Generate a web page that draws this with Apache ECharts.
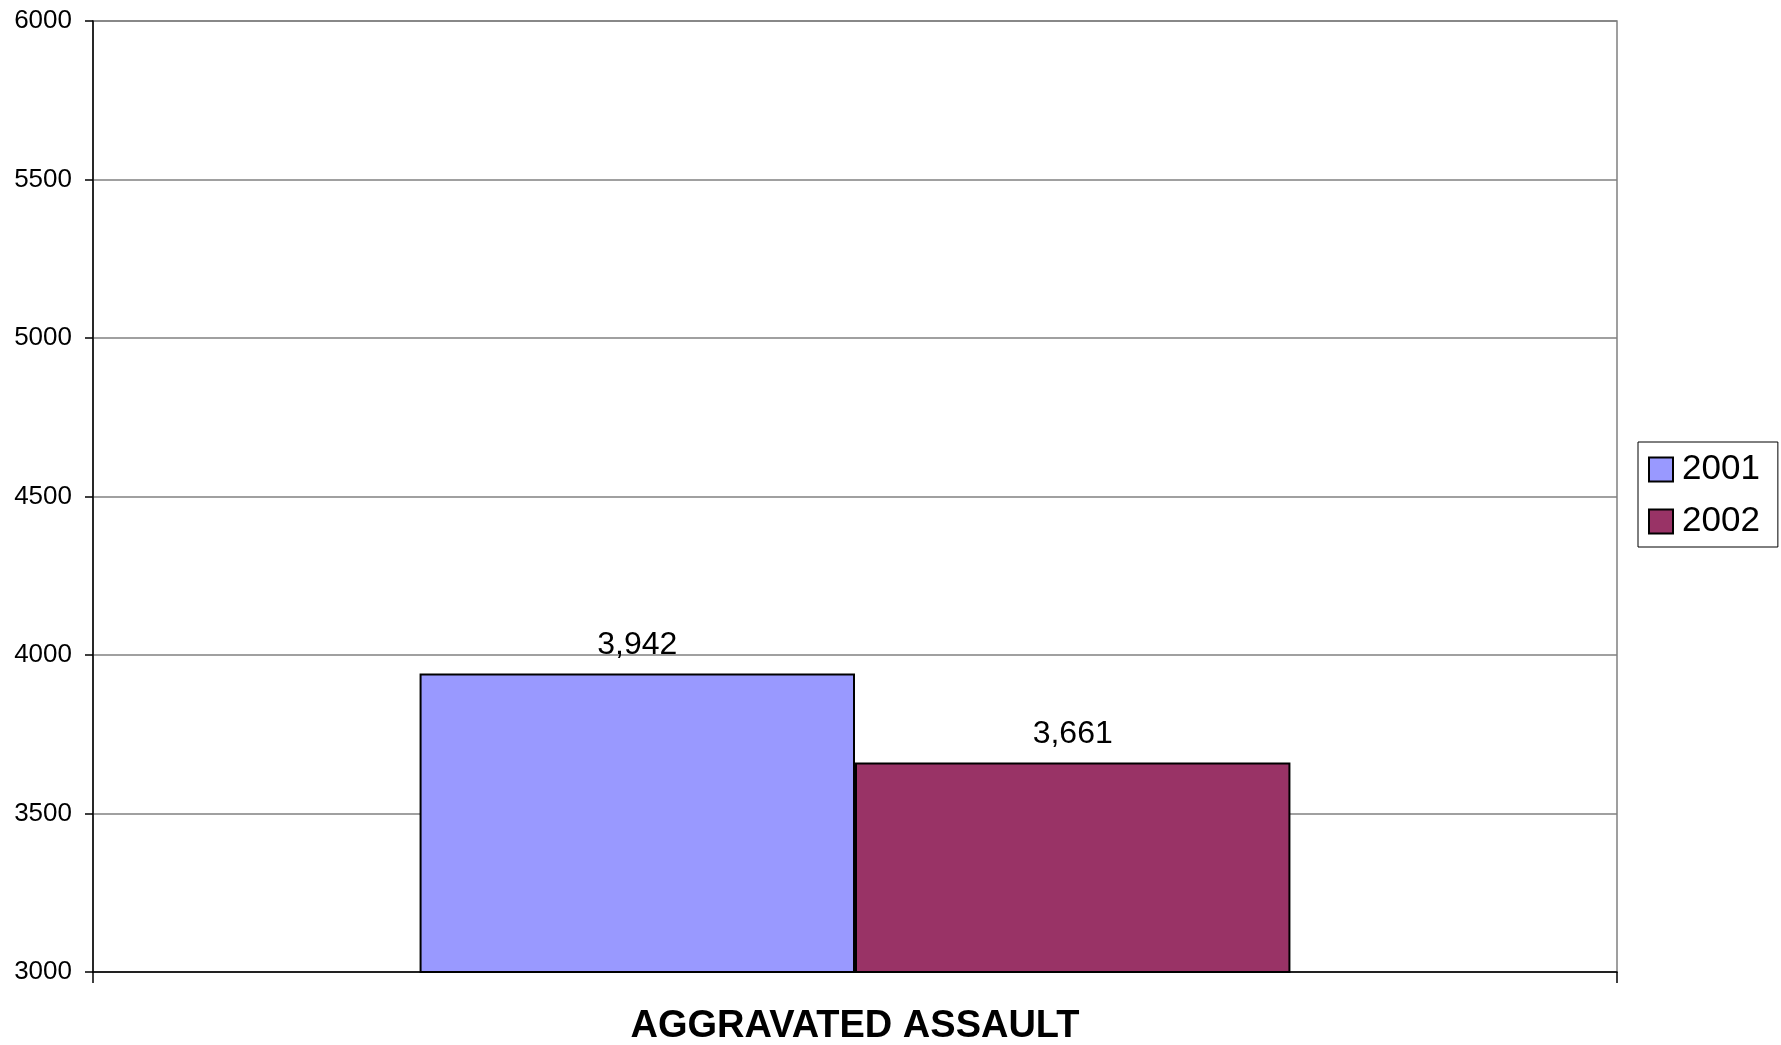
<!DOCTYPE html>
<html><head><meta charset="utf-8">
<script src="https://cdn.jsdelivr.net/npm/echarts@6/dist/echarts.min.js"></script>
<style>html,body{margin:0;padding:0;background:#fff}#c{width:1781px;height:1045px}</style>
</head><body><div id="c"></div>
<script>
const categories = ["AGGRAVATED ASSAULT"];
const seriesNames = ["2001", "2002"];
const values2001 = [3942];
const values2002 = [3661];
const yMin = 3000, yMax = 6000, yInterval = 500;

const FONT = "'Liberation Sans', Arial, sans-serif";
const chart = echarts.init(document.getElementById('c'), null, {renderer: 'canvas'});
const labelFmt = p => p.value.toLocaleString('en-US');
chart.setOption({
  animation: false,
  backgroundColor: '#ffffff',
  grid: {left: 93, right: 164, top: 21, bottom: 73, show: true, borderColor: '#808080', borderWidth: 1.5, backgroundColor: 'transparent', outerBoundsMode: 'none', containLabel: false},
  legend: {
    orient: 'vertical', left: 1638, top: 442,
    data: seriesNames,
    itemWidth: 24, itemHeight: 24, itemGap: 17,
    padding: [10, 18, 8, 10],
    borderColor: '#000', borderWidth: 1,
    textStyle: {fontFamily: FONT, fontSize: 35, color: '#000', padding: [0,0,0,4]},
    icon: 'rect'
  },
  xAxis: {
    type: 'category', data: categories,
    axisLine: {lineStyle: {color: '#000', width: 1.5}},
    axisTick: {show: true, length: 11, lineStyle: {color: '#000', width: 1.5}},
    axisLabel: {fontFamily: FONT, fontSize: 38, fontWeight: 'bold', color: '#000', margin: 36},
    splitLine: {show: false}
  },
  yAxis: {
    type: 'value', min: yMin, max: yMax, interval: yInterval,
    axisLine: {show: true, lineStyle: {color: '#000', width: 1.5}},
    axisTick: {show: true, length: 8, lineStyle: {color: '#000', width: 1.5}},
    axisLabel: {fontFamily: FONT, fontSize: 26, color: '#000', margin: 21, formatter: v => String(v)},
    splitLine: {show: true, lineStyle: {color: '#808080', width: 1.5}}
  },
  series: [
    {name: seriesNames[0], type: 'bar', data: values2001, barGap: '0%', barCategoryGap: '42.857%',
     itemStyle: {color: '#9999FF', borderColor: '#000', borderWidth: 2},
     label: {show: true, position: 'top', distance: 12, formatter: labelFmt, fontFamily: FONT, fontSize: 32, color: '#000'}},
    {name: seriesNames[1], type: 'bar', data: values2002, barGap: '0%', barCategoryGap: '42.857%',
     itemStyle: {color: '#993366', borderColor: '#000', borderWidth: 2},
     label: {show: true, position: 'top', distance: 12, formatter: labelFmt, fontFamily: FONT, fontSize: 32, color: '#000'}}
  ]
});
</script></body></html>
